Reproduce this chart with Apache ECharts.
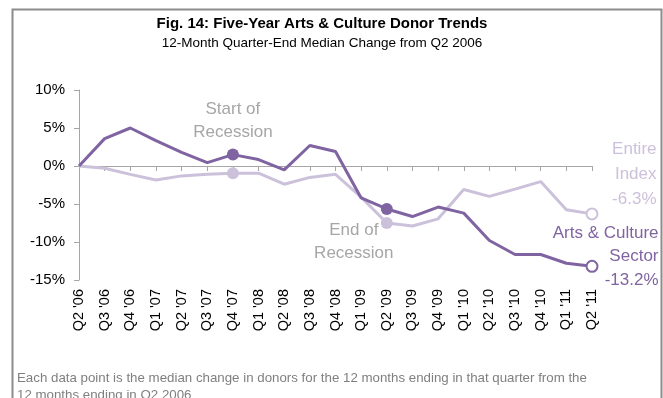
<!DOCTYPE html>
<html>
<head>
<meta charset="utf-8">
<script src="https://cdn.jsdelivr.net/npm/echarts@6/dist/echarts.min.js"></script>
<style>
  html, body { margin: 0; padding: 0; background: #fff; }
  #chart { width: 663px; height: 398px; }
</style>
</head>
<body>
<div id="chart"></div>
<script>
// Quarter-end labels
const quarters = ["Q2 '06","Q3 '06","Q4 '06","Q1 '07","Q2 '07","Q3 '07","Q4 '07","Q1 '08",
  "Q2 '08","Q3 '08","Q4 '08","Q1 '09","Q2 '09","Q3 '09","Q4 '09","Q1 '10","Q2 '10",
  "Q3 '10","Q4 '10","Q1 '11","Q2 '11"];

// 12-month median change in donors vs. Q2 2006 (%)
const artsCulture = [0, 3.6, 5.0, 3.35, 1.8, 0.45, 1.5, 0.85, -0.5, 2.7, 1.9, -4.2, -5.65,
  -6.65, -5.4, -6.2, -9.8, -11.65, -11.65, -12.8, -13.2];
const entireIndex = [0, -0.3, -1.1, -1.85, -1.3, -1.1, -0.95, -0.95, -2.4, -1.5, -1.1, -4.1,
  -7.5, -7.9, -6.95, -3.1, -4.0, -3.05, -2.05, -5.75, -6.3];

// Y axis ticks
const yTicks = [-15, -10, -5, 0, 5, 10];

// Recession markers
const recessionStart = "Q4 '07";
const recessionEnd = "Q2 '09";

const FONT = '"Liberation Sans", Arial, sans-serif';
const DARK = '#8064a2';
const LIGHT = '#ccc1da';
const GREY = '#a6a6a6';

const iStart = quarters.indexOf(recessionStart);
const iEnd = quarters.indexOf(recessionEnd);
const iLast = quarters.length - 1;

function fmtPct(v) { return v.toFixed(1) + '%'; }

function buildData(values, color, labels) {
  return values.map((v, i) => {
    const item = { value: v, symbol: 'none' };
    if (i === iStart || i === iEnd) {
      item.symbol = 'circle';
      item.symbolSize = 12;
      item.itemStyle = { color: color, borderWidth: 0 };
    } else if (i === iLast) {
      item.symbol = 'circle';
      item.symbolSize = 11;
      item.itemStyle = { color: '#fff', borderColor: color, borderWidth: 2 };
    }
    if (labels[i]) item.label = Object.assign({ show: true, fontFamily: FONT }, labels[i]);
    return item;
  });
}

const darkLabels = {};
darkLabels[iStart] = {
  formatter: 'Start of\nRecession', position: 'top', distance: 5,
  fontSize: 17, lineHeight: 23, color: GREY, align: 'center'
};
darkLabels[iLast] = {
  formatter: 'Arts & Culture\nSector\n' + fmtPct(artsCulture[iLast]),
  position: 'right', distance: 60, align: 'right', offset: [0, -10],
  fontSize: 17, lineHeight: 23.5, color: DARK
};

const lightLabels = {};
lightLabels[iEnd] = {
  formatter: 'End of\nRecession', position: 'bottom', distance: 0, offset: [-33, -10],
  fontSize: 17, lineHeight: 23, color: GREY, align: 'center'
};
lightLabels[iLast] = {
  formatter: 'Entire\nIndex\n' + fmtPct(entireIndex[iLast]),
  position: 'right', distance: 58, align: 'right', offset: [0, -40],
  fontSize: 17, lineHeight: 25, color: LIGHT
};

const chart = echarts.init(document.getElementById('chart'), null, { renderer: 'canvas' });

chart.setOption({
  animation: false,
  backgroundColor: '#fff',
  grid: { left: 79, right: 71, top: 90, bottom: 118, containLabel: false },
  graphic: [
    { type: 'rect', silent: true, z: -10,
      shape: { x: 12.5, y: 9.5, width: 649, height: 400 },
      style: { fill: '#fff', stroke: '#8c8c8c', lineWidth: 2 } },
    { type: 'text', x: 322, y: 24,
      style: { text: 'Fig. 14: Five-Year Arts & Culture Donor Trends', fill: '#000',
        fontSize: 15, fontWeight: 'bold', fontFamily: FONT,
        align: 'center', verticalAlign: 'middle' } },
    { type: 'text', x: 322, y: 43,
      style: { text: '12-Month Quarter-End Median Change from Q2 2006', fill: '#000',
        fontSize: 13.5, fontFamily: FONT, align: 'center', verticalAlign: 'middle' } },
    { type: 'text', x: 17, y: 369.5,
      style: { text: 'Each data point is the median change in donors for the 12 months ending in that quarter from the\n12 months ending in Q2 2006',
        fill: '#7f7f7f', fontSize: 13.3, fontFamily: FONT, lineHeight: 17,
        align: 'left', verticalAlign: 'top' } }
  ],
  xAxis: [
    { // zero line with quarter ticks
      type: 'category', data: quarters, boundaryGap: false, position: 'top',
      axisLine: { show: true, onZero: true, lineStyle: { color: GREY, width: 1 } },
      axisTick: { show: true, inside: true, length: 5, interval: 0, lineStyle: { color: GREY } },
      axisLabel: { show: false }, splitLine: { show: false }
    },
    { // quarter labels along the bottom
      type: 'category', data: quarters, boundaryGap: false, position: 'bottom',
      axisLine: { show: false, onZero: false }, axisTick: { show: false },
      axisLabel: { show: true, interval: 0, rotate: 90, margin: 9,
        color: '#000', fontSize: 14.5, fontFamily: FONT },
      splitLine: { show: false }
    }
  ],
  yAxis: {
    type: 'value', min: yTicks[0], max: yTicks[yTicks.length - 1], interval: 5,
    axisLine: { show: true, lineStyle: { color: GREY } },
    axisTick: { show: true, length: 5, lineStyle: { color: GREY } },
    axisLabel: { formatter: '{value}%', color: '#000', fontSize: 15, fontFamily: FONT, margin: 14 },
    splitLine: { show: false }
  },
  series: [
    { name: 'Entire Index', type: 'line', xAxisIndex: 0, symbol: 'circle', showSymbol: true,
      lineStyle: { color: LIGHT, width: 3 }, itemStyle: { color: LIGHT },
      z: 2, data: buildData(entireIndex, LIGHT, lightLabels) },
    { name: 'Arts & Culture Sector', type: 'line', xAxisIndex: 0, symbol: 'circle', showSymbol: true,
      lineStyle: { color: DARK, width: 3 }, itemStyle: { color: DARK },
      z: 3, data: buildData(artsCulture, DARK, darkLabels) }
  ]
});
</script>
</body>
</html>
